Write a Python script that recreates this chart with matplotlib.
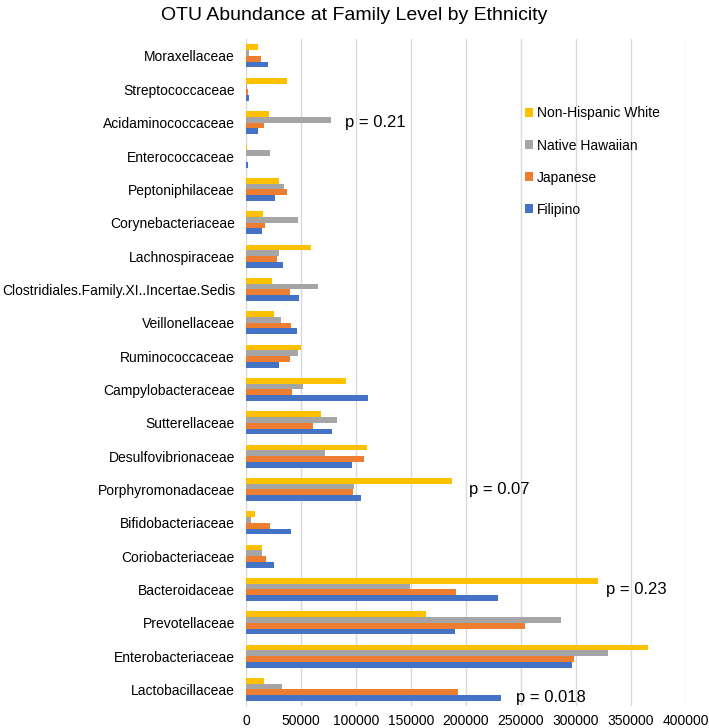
import numpy as np
import matplotlib
matplotlib.use('Agg')
import matplotlib.pyplot as plt

plt.rcParams['font.family'] = ['Liberation Sans', 'DejaVu Sans']

# familias de abajo hacia arriba
families = ['Lactobacillaceae', 'Enterobacteriaceae', 'Prevotellaceae',
            'Bacteroidaceae', 'Coriobacteriaceae', 'Bifidobacteriaceae',
            'Porphyromonadaceae', 'Desulfovibrionaceae', 'Sutterellaceae',
            'Campylobacteraceae', 'Ruminococcaceae', 'Veillonellaceae',
            'Clostridiales.Family.XI..Incertae.Sedis', 'Lachnospiraceae',
            'Corynebacteriaceae', 'Peptoniphilaceae', 'Enterococcaceae',
            'Acidaminococcaceae', 'Streptococcaceae', 'Moraxellaceae']

filipino = [231500, 296400, 190300, 228800, 25500, 40900, 104200, 96400, 77900,
            110900, 29700, 46700, 48200, 33600, 14500, 26700, 1500, 11200, 3000,
            20300]
japanese = [192400, 298500, 253900, 191200, 18200, 21800, 97000, 107300, 61200,
            41800, 39700, 41200, 39700, 28500, 17000, 37000, 0, 16100, 1800,
            13300]
native_hawaiian = [33000, 329400, 286700, 149000, 14200, 4500, 98200, 72100,
                   82400, 52100, 47300, 32100, 65500, 30000, 47600, 34200,
                   21500, 77000, 600, 2400]
nh_white = [16400, 365500, 163300, 319700, 14200, 8500, 187600, 109700, 67900,
            91200, 49700, 25800, 23300, 59100, 15500, 30300, 500, 20900, 37300,
            10900]

series = [('Filipino', filipino, '#4472C4'),
          ('Japanese', japanese, '#ED7D31'),
          ('Native Hawaiian', native_hawaiian, '#A5A5A5'),
          ('Non-Hispanic White', nh_white, '#FFC000')]

# anotaciones (familia, posicion x, texto)
p_notes = [('Acidaminococcaceae', 90000, 'p = 0.21'),
           ('Porphyromonadaceae', 203000, 'p = 0.07'),
           ('Bacteroidaceae', 327000, 'p = 0.23'),
           ('Lactobacillaceae', 245000, 'p = 0.018')]

fig = plt.figure(figsize=(7.09, 7.28), dpi=100)
ax = fig.add_axes([0.347, 0.030, 0.6206, 0.916])

y = np.arange(len(families))
h = 0.1725
for i, (name, vals, col) in enumerate(series):
    ax.barh(y + (i - 1.5) * h, vals, height=h, color=col, label=name, zorder=3)

for fam, xv, txt in p_notes:
    yy = families.index(fam)
    if fam == 'Lactobacillaceae':
        yy -= 0.25
    ax.text(xv, yy, txt, fontsize=12, va='center', ha='left', zorder=4)

ax.set_xlim(0, 400000)
ax.set_ylim(-0.5, len(families) - 0.5)
ax.set_xticks(np.arange(0, 400001, 50000))
ax.set_yticks(y)
ax.set_yticklabels(families, fontsize=10)
ax.tick_params(axis='x', labelsize=10, length=0, pad=6)
ax.tick_params(axis='y', length=0, pad=8)
ax.grid(True, axis='x', color='#D9D9D9', linewidth=1, zorder=0)
for s in ['top', 'right', 'bottom']:
    ax.spines[s].set_visible(False)
ax.spines['left'].set_color('#D9D9D9')

handles, labels = ax.get_legend_handles_labels()
ax.legend(handles[::-1], labels[::-1], loc='upper left',
          bbox_to_anchor=(512 / 709, 1 - 94 / 728), bbox_transform=fig.transFigure,
          frameon=False, fontsize=10, handlelength=0.6, handleheight=0.6,
          handletextpad=0.3, labelspacing=1.3)

fig.suptitle('OTU Abundance at Family Level by Ethnicity', fontsize=14,
             x=0.5, y=0.99)

fig.savefig('out.png', dpi=100)
